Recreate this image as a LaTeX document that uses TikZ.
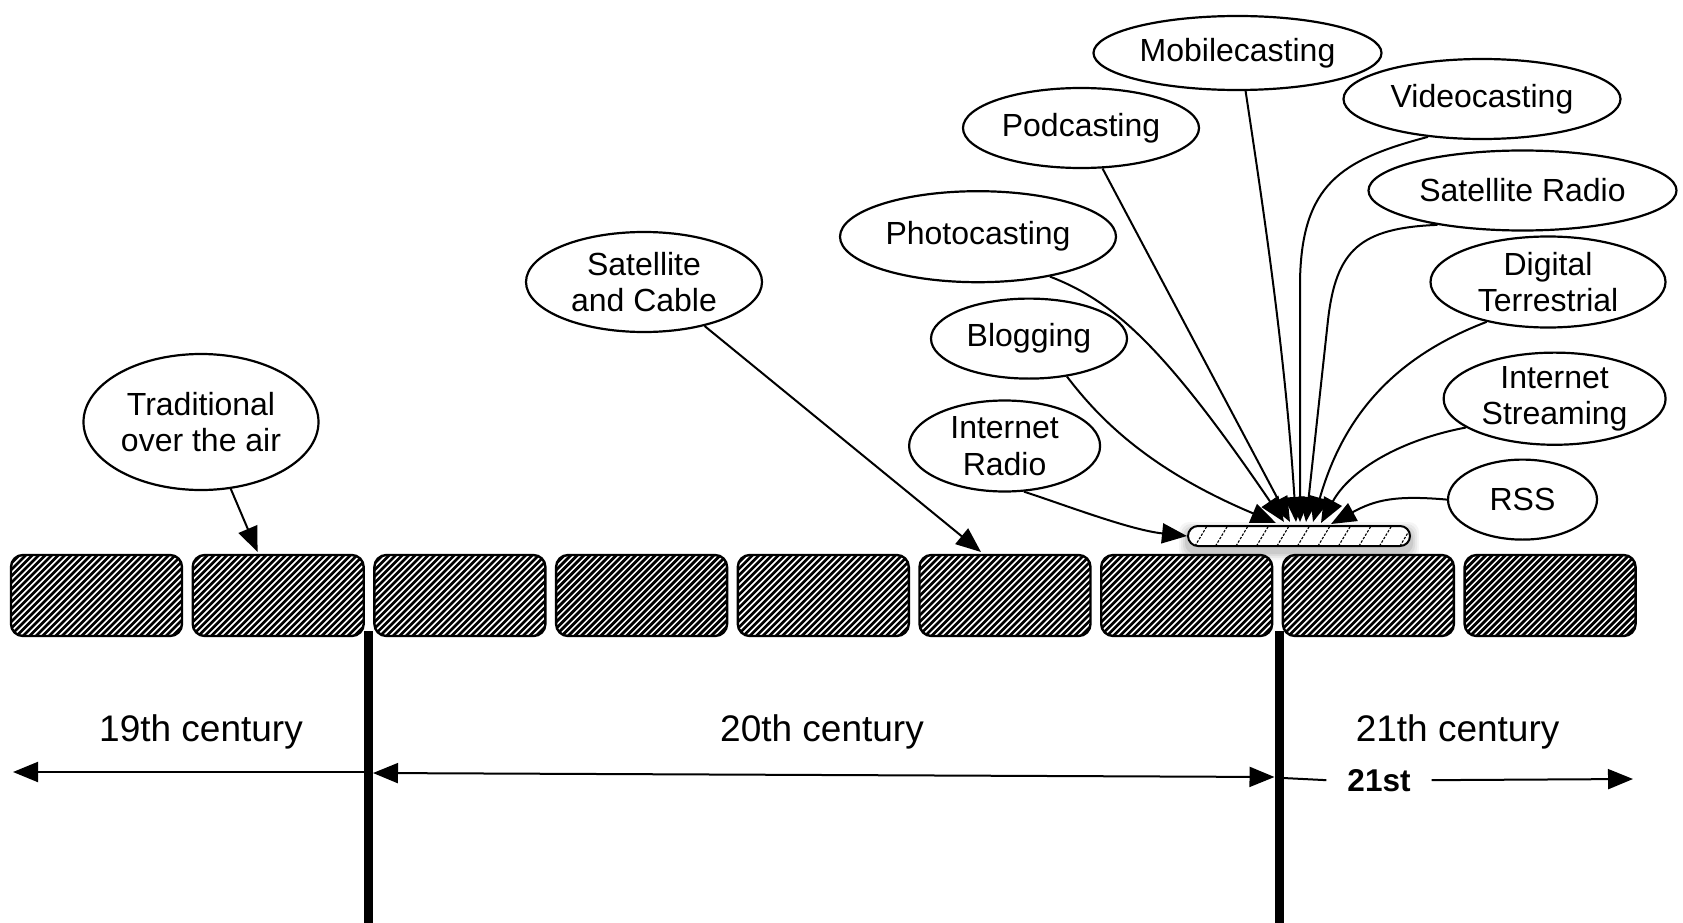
\documentclass[tikz,border=0pt]{standalone}
\usepackage{fontspec}
\setmainfont{Liberation Sans}
\usetikzlibrary{shapes.geometric,arrows.meta,calc}
\pgfdeclarelayer{background}
\pgfsetlayers{background,main}
\begin{document}
\begin{tikzpicture}[x=1pt,y=-1pt,
  bubble/.style={ellipse, draw, line width=2.2pt, inner sep=0pt, align=center,
    font=\fontsize{32}{36.5}\selectfont},
  hbox/.style={draw, line width=2.4pt, rounded corners=12pt, minimum width=171pt,
    minimum height=81pt, inner sep=0pt,
    path picture={
      \foreach \k in {0,...,41}{
        \draw[line width=2.7pt] ([xshift=\k*6.5pt-92pt]path picture bounding box.south west) -- ++(92pt,92pt);
      }}},
  barbox/.style={draw, line width=2pt, rounded corners=10pt, minimum width=222pt,
    minimum height=20pt, inner sep=0pt, fill=white,
    path picture={
      \foreach \k in {0,...,11}{
        \draw[line width=1.1pt, dash pattern=on 2.5pt off 1.5pt] ([xshift=7pt+\k*20.5pt]path picture bounding box.south west) -- ++(12pt,20pt);
      }}},
  tip/.style={-{Triangle[length=25pt,width=20pt]}},
  con/.style={line width=2pt, tip},
  tl/.style={line width=2pt},
  lbl/.style={font=\fontsize{37}{44}\selectfont, inner sep=0pt},
  vline/.style={line width=9pt}
]
\useasboundingbox (0,0) rectangle (1683,923);

% hatched period boxes
\foreach \i in {1,...,9}
  \node[hbox] (b\i) at ({96.5+181.7*(\i-1)},595.5) {};

% small bar
\node[barbox] (bar) at (1299,536) {};
\begin{pgfonlayer}{background}
  \foreach \s/\o in {8/0.04,6/0.05,4/0.06,2/0.08}{
    \fill[black, opacity=\o, rounded corners=10pt]
      ([xshift=-\s pt, yshift=-5pt-\s pt]bar.south west) rectangle
      ([xshift=\s pt, yshift=-5pt+\s pt]bar.north east);
  }
\end{pgfonlayer}

% ellipses
\node[bubble, minimum width=235pt, minimum height=136pt] (trad) at (201,422) {Traditional\\over the air};
\node[bubble, minimum width=236pt, minimum height=100pt] (satc) at (644,282) {Satellite\\and Cable};
\node[bubble, minimum width=288pt, minimum height=74pt] (mobile) at (1237.5,53) {Mobilecasting};
\node[bubble, minimum width=236pt, minimum height=80pt] (podc) at (1081,128) {Podcasting};
\node[bubble, minimum width=277pt, minimum height=80pt] (video) at (1482,99) {Videocasting};
\node[bubble, minimum width=308pt, minimum height=80pt] (satr) at (1522.5,190.5) {Satellite Radio};
\node[bubble, minimum width=276pt, minimum height=91pt] (photo) at (978,236.7) {Photocasting};
\node[bubble, minimum width=235pt, minimum height=91pt] (digi) at (1548,282) {Digital\\Terrestrial};
\node[bubble, minimum width=196pt, minimum height=80pt] (blog) at (1029,338.6) {Blogging};
\node[bubble, minimum width=222pt, minimum height=89pt] (istream) at (1554.6,398.7) {Internet\\Streaming};
\node[bubble, minimum width=191pt, minimum height=91pt] (iradio) at (1004.6,446) {Internet\\Radio};
\node[bubble, minimum width=149pt, minimum height=80pt] (rss) at (1522.5,499.6) {RSS};

% arrow tip points
\coordinate (tTrad) at (257.6,552);
\coordinate (tSatc) at (981,552);
\coordinate (tBlog) at (1276,523);
\coordinate (tPhoto) at (1284,522);
\coordinate (tPodc) at (1290,522);
\coordinate (tMobile) at (1296,522);
\coordinate (tVideo) at (1300,522);
\coordinate (tSatr) at (1306,522);
\coordinate (tDigi) at (1313,522);
\coordinate (tStream) at (1321,523);
\coordinate (tRss) at (1331,524);

% connectors
\draw[con] (trad.-66) -- (tTrad);
\draw[con] (satc.-36) -- (tSatc);
\draw[con] (iradio.-67) .. controls (1065,505) and (1130,530) .. (bar.west);
\draw[con] (blog.-45) .. controls (1100,420) and (1150,470) .. (tBlog);
\draw[con] (photo.-29) .. controls (1110,300) and (1160,340) .. (tPhoto);
\draw[con] (podc.-62) -- (tPodc);
\draw[con] (mobile.-78) .. controls (1262,200) and (1285,350) .. (tMobile);
\draw[con] (video.-145) .. controls (1340,160) and (1302,185) .. (1300,280) -- (tVideo);
\draw[con] (satr.-158) .. controls (1360,228) and (1336,250) .. (1328,320) -- (tSatr);
\draw[con] (digi.-147) .. controls (1400,355) and (1345,410) .. (tDigi);
\draw[con] (istream.-162) .. controls (1400,440) and (1350,470) .. (tStream);
\draw[con] (rss.west) .. controls (1395,495) and (1375,500) .. (tRss);

% century dividers
\coordinate (v1top) at (368,631); \coordinate (v1bot) at (368,923);
\coordinate (v2top) at (1279,631); \coordinate (v2bot) at (1279,923);
\draw[vline] (v1top) -- (v1bot);
\draw[vline] (v2top) -- (v2bot);

% century labels
\node[lbl, anchor=base] (c19) at (201,741) {19th century};
\node[lbl, anchor=base] (c20) at (822,741) {20th century};
\node[lbl, anchor=base] (c21) at (1457.6,741) {21th century};

% timeline arrows
\coordinate (aL) at (13,772); \coordinate (a19) at (368,772);
\draw[tl, tip] (a19) -- (aL);
\coordinate (a20l) at (373,773); \coordinate (a20r) at (1274.5,777);
\draw[tl, {Triangle[length=25pt,width=20pt]}-{Triangle[length=25pt,width=20pt]}] (a20l) -- (a20r);
\node[font=\bfseries\fontsize{31.5}{36}\selectfont, anchor=base, inner xsep=21pt] (l21) at (1379,791) {21st};
\coordinate (a21l) at (1283,778); \coordinate (a21r) at (1633,779);
\draw[tl] (a21l) -- (l21.west);
\draw[tl, tip] (l21.east) -- (a21r);
\end{tikzpicture}
\end{document}
